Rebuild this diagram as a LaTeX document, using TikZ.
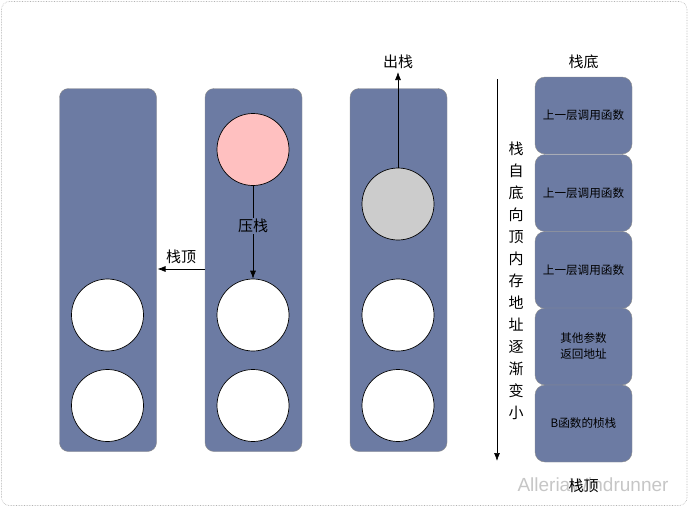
\documentclass[tikz,border=0pt]{standalone}
\usepackage{fontspec}
\setmainfont{Liberation Sans}
\newfontfamily\cjk{Noto Sans CJK SC}
\usetikzlibrary{arrows.meta}
\definecolor{stackblue}{RGB}{108,123,163}
\definecolor{stackedge}{RGB}{140,140,140}
\definecolor{pinkfill}{RGB}{255,192,192}
\definecolor{grayfill}{RGB}{204,204,204}
\tikzset{
  stackbox/.style={draw=stackedge, fill=stackblue, rounded corners=9pt, minimum width=97pt, minimum height=363pt, inner sep=0pt},
  cell/.style={draw=stackedge, fill=stackblue, rounded corners=10pt, minimum width=97pt, minimum height=77pt, inner sep=0pt, font=\cjk\fontsize{11.6}{16}\selectfont, align=center},
  ball/.style={circle, draw=black, line width=0.7pt, minimum size=72pt, inner sep=0pt},
  lbl/.style={font=\cjk\fontsize{15}{17}\selectfont, inner sep=1pt},
  arr/.style={-{Latex[length=8pt,width=6pt]}, line width=0.7pt},
}
\begin{document}
\begin{tikzpicture}[x=1pt,y=-1pt]
\useasboundingbox (0,0) rectangle (689,512);
\draw[gray!60, densely dotted, line width=0.6pt, rounded corners=8pt] (1.5,1.5) rectangle (687,505.5);
% stacks
\node[stackbox] (s1) at (108,270) {};
\node[stackbox] (s2) at (253.5,270) {};
\node[stackbox] (s3) at (398.5,270) {};
% balls
\node[ball, fill=white] (a1) at (107.5,315) {};
\node[ball, fill=white] (a2) at (107.5,405.5) {};
\node[ball, fill=pinkfill] (bp) at (253,149.5) {};
\node[ball, fill=white] (b1) at (253,315) {};
\node[ball, fill=white] (b2) at (253,405.5) {};
\node[ball, fill=grayfill] (cg) at (398,204) {};
\node[ball, fill=white] (c1) at (398,315) {};
\node[ball, fill=white] (c2) at (398,405.5) {};
% push
\draw[arr] (bp.south) -- (b1.north);
\node[lbl, fill=stackblue] (push) at (253,226) {压栈};
% top pointer
\coordinate (tpA) at (205,269);
\coordinate (tpB) at (157.5,269);
\draw[arr] (tpA) -- (tpB);
\node[lbl] (toplbl) at (181,257) {栈顶};
% pop
\coordinate (popend) at (398,72);
\draw[arr] (cg.north) -- (popend);
\node[lbl] (poplbl) at (398,62) {出栈};
% address arrow
\coordinate (adA) at (497,79);
\coordinate (adB) at (497,461);
\draw[arr] (adA) -- (adB);
\foreach \c [count=\i from 0] in {栈,自,底,向,顶,内,存,地,址,逐,渐,变,小}{
  \node[lbl] (v\i) at (516,149+22*\i) {\c};
}
% right column
\node[cell] (r1) at (583.5,115.5) {上一层调用函数};
\node[cell] (r2) at (583.5,193) {上一层调用函数};
\node[cell] (r3) at (583.5,270) {上一层调用函数};
\node[cell] (r4) at (583.5,346.5) {其他参数\\返回地址};
\node[cell] (r5) at (583.5,423.5) {B函数的桢栈};
\node[lbl] (bottomlbl) at (583.5,62) {栈底};
% watermark
\node[text=gray!45, font=\fontsize{19}{19}\selectfont, inner sep=0pt] (wm) at (593,485) {AlleriaWindrunner};
\node[lbl] (toplbl2) at (583.5,486) {栈顶};
\end{tikzpicture}
\end{document}
